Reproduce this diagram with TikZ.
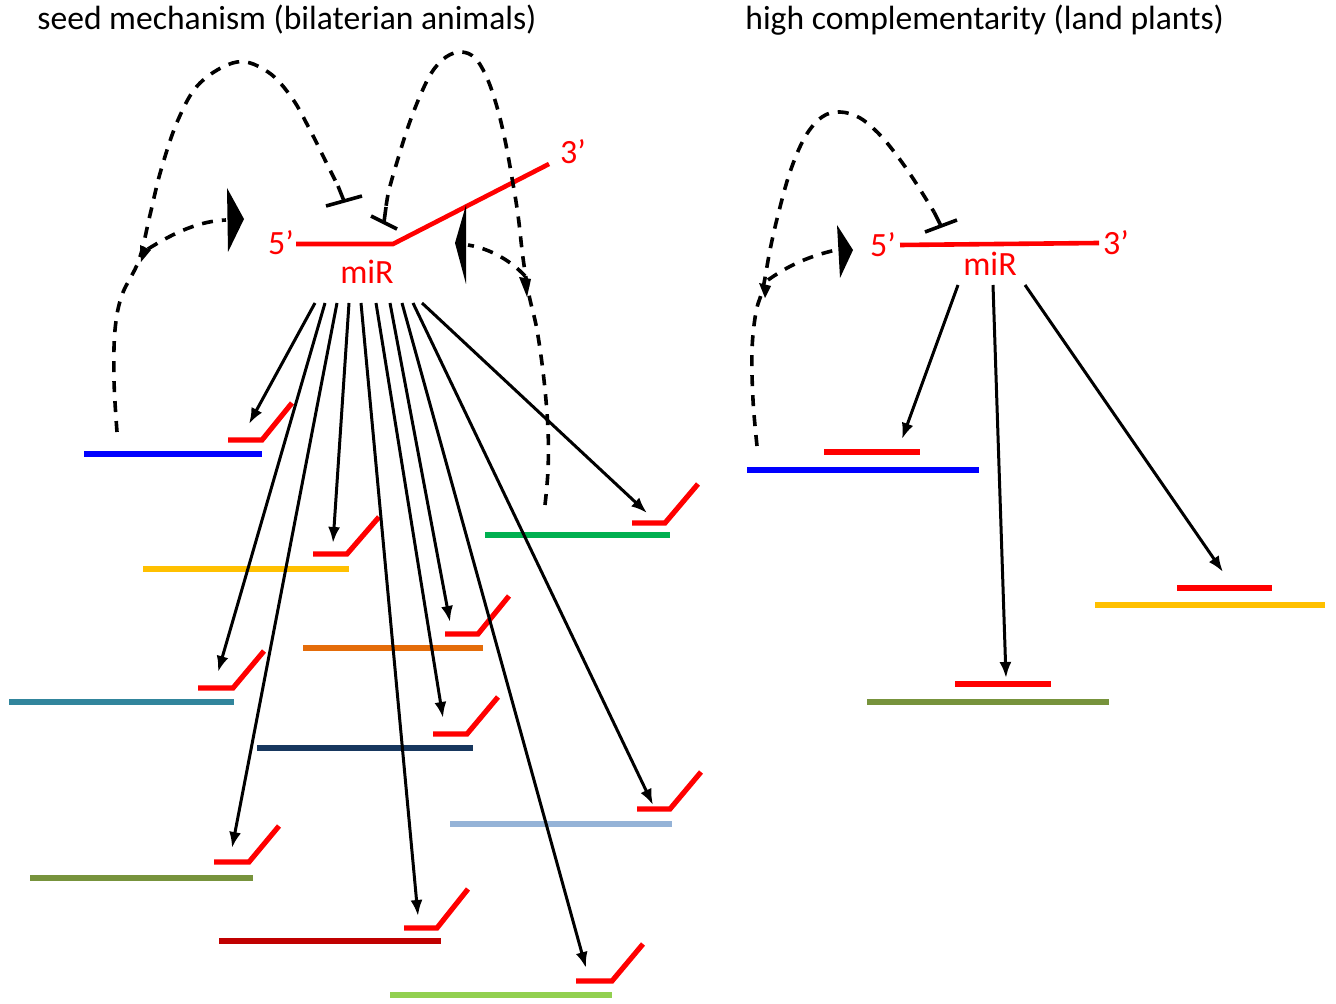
\documentclass[tikz,border=0pt]{standalone}
\usepackage{fontspec}
\setmainfont{Carlito}
\usetikzlibrary{arrows.meta}
\definecolor{cblue}{RGB}{0,0,255}
\definecolor{cyellow}{RGB}{255,192,0}
\definecolor{corange}{RGB}{228,108,10}
\definecolor{cteal}{RGB}{49,133,156}
\definecolor{cgreen}{RGB}{0,176,80}
\definecolor{cdarkblue}{RGB}{23,55,94}
\definecolor{clightblue}{RGB}{149,179,215}
\definecolor{colive}{RGB}{119,147,60}
\definecolor{cdarkred}{RGB}{192,0,0}
\definecolor{clightgreen}{RGB}{146,208,80}
\definecolor{cred}{RGB}{255,0,0}
\begin{document}
\begin{tikzpicture}[x=0.5pt,y=-0.5pt,
  tline/.style={line width=2.6pt},
  hookline/.style={cred,line width=2.6pt,line join=miter},
  mirline/.style={cred,line width=2.3pt,line join=miter},
  tgtarrow/.style={line width=1.5pt,-{Latex[length=8pt,width=6pt]}},
  fbline/.style={line width=1.8pt,dash pattern=on 5.5pt off 4.5pt},
  fbbar/.style={line width=1.8pt},
  lbl/.style={text=cred,font=\fontsize{17}{19}\selectfont,inner sep=0pt},
  ttl/.style={font=\fontsize{16.8}{19}\selectfont,inner sep=0pt,anchor=west}]
\useasboundingbox (0,0) rectangle (1336,1004);

% titles
\node[ttl] (t1) at (37,20) {seed mechanism (bilaterian animals)};
\node[ttl] (t2) at (745,20) {high complementarity (land plants)};

% ---------------- left panel ----------------
\draw[mirline] (296,244) -- (393,244) -- (549,164);
\node[lbl] (l5a) at (281,243) {5’};
\node[lbl] (l3a) at (573,152) {3’};
\node[lbl] (mirA) at (367,272) {miR};

% targets
\draw[tline,cblue] (84,454) -- (262,454);
\draw[tline,cyellow] (143,569) -- (349,569);
\draw[tline,cgreen] (485,535) -- (670,535);
\draw[tline,corange] (303,648) -- (483,648);
\draw[tline,cteal] (9,702) -- (234,702);
\draw[tline,cdarkblue] (257,748) -- (473,748);
\draw[tline,clightblue] (450,824) -- (672,824);
\draw[tline,colive] (30,878) -- (253,878);
\draw[tline,cdarkred] (219,941) -- (441,941);
\draw[tline,clightgreen] (390,995) -- (612,995);

% red hooks (bound miRNAs)
\draw[hookline] (228,440) -- (262,440) -- (292,403);
\draw[hookline] (313,554) -- (347,554) -- (379,517);
\draw[hookline] (632,523) -- (665,523) -- (698,484);
\draw[hookline] (445,634) -- (478,634) -- (509,596);
\draw[hookline] (198,688) -- (233,688) -- (264,651);
\draw[hookline] (433,734) -- (467,734) -- (498,697);
\draw[hookline] (637,809) -- (670,809) -- (701,772);
\draw[hookline] (214,862) -- (249,862) -- (279,826);
\draw[hookline] (404,928) -- (437,928) -- (468,889);
\draw[hookline] (576,981) -- (612,981) -- (643,944);

% fan of arrows
\coordinate (o1) at (315,303); \coordinate (o2) at (325,303);
\coordinate (o3) at (337,303); \coordinate (o4) at (349,303);
\coordinate (o5) at (361,303); \coordinate (o6) at (376,303);
\coordinate (o7) at (390,303); \coordinate (o8) at (402,303);
\coordinate (o9) at (413,303); \coordinate (o10) at (422,303);
\coordinate (e1) at (249,424); \coordinate (e2) at (218,672);
\coordinate (e3) at (232,848); \coordinate (e4) at (333,543);
\coordinate (e5) at (418,916); \coordinate (e6) at (443,718);
\coordinate (e7) at (450,622); \coordinate (e8) at (586,968);
\coordinate (e9) at (653,805); \coordinate (e10) at (647,513);
\foreach \i in {1,...,10} \draw[tgtarrow] (o\i) -- (e\i);

% feedback A (blue target -> miR)
\coordinate (fa0) at (117,432);
\draw[fbline] plot[smooth,tension=0.6] coordinates {(fa0) (114,380) (115,330) (122,295) (139,260) (150,215) (161,170) (178,120) (200,83) (237,62) (268,72) (292,98) (310,130) (325,160) (338,186)};
\draw[fbbar] (338,186) -- (344,201);
\draw[fbbar] (326,206) -- (362,196);
\fill (140,245) -- (151,250) -- (141,262) -- cycle;
\coordinate (ja) at (148,249);
\draw[fbline] (ja) .. controls (175,232) and (200,221) .. (226,220);
\fill (227,188) -- (244,219) -- (228,252) -- cycle;

% feedback B (green target -> miR)
\coordinate (fb0) at (545,505);
\draw[fbline] plot[smooth,tension=0.6] coordinates {(fb0) (548,470) (548,430) (544,380) (537,330) (529,295) (523,258) (518,215) (512,178) (505,140) (497,107) (487,78) (475,58) (461,52) (446,57) (432,72) (420,96) (408,127) (397,162) (389,190) (386,207)};
\draw[fbbar] (386,207) -- (384,222);
\draw[fbbar] (371,216) -- (397,229);
\fill (519,277) -- (531,279) -- (527,297) -- cycle;
\coordinate (jb) at (525,276);
\draw[fbline] (jb) .. controls (512,262) and (492,249) .. (468,245);
\fill (466,205) -- (455,243) -- (466,284) -- cycle;

% ---------------- right panel ----------------
\draw[mirline] (900,245) -- (1099,243);
\node[lbl] (l5b) at (883,245) {5’};
\node[lbl] (l3b) at (1116,243) {3’};
\node[lbl] (mirB) at (990,264) {miR};

\draw[tline,cblue] (747,470) -- (979,470);
\draw[tline,colive] (867,702) -- (1109,702);
\draw[tline,cyellow] (1095,605) -- (1325,605);
\draw[hookline] (824,452) -- (920,452);
\draw[hookline] (955,684) -- (1051,684);
\draw[hookline] (1177,588) -- (1272,588);

\coordinate (p1) at (958,285); \coordinate (q1) at (902,439);
\coordinate (p2) at (993,285); \coordinate (q2) at (1006,678);
\coordinate (p3) at (1025,285); \coordinate (q3) at (1223,572);
\foreach \i in {1,2,3} \draw[tgtarrow] (p\i) -- (q\i);

% feedback C
\coordinate (fc0) at (757,446);
\draw[fbline] plot[smooth,tension=0.6] coordinates {(fc0) (753,400) (752,350) (756,312) (763,288) (770,250) (778,215) (790,172) (805,137) (822,117) (840,112) (860,118) (880,135) (898,157) (914,180) (934,212)};
\draw[fbbar] (934,212) -- (941,226);
\draw[fbbar] (925,232) -- (957,220);
\fill (759,283) -- (771,286) -- (765,298) -- cycle;
\coordinate (jc) at (768,280);
\draw[fbline] (jc) .. controls (785,268) and (805,257) .. (836,250);
\fill (837,225) -- (853,250) -- (840,278) -- cycle;
\end{tikzpicture}
\end{document}
